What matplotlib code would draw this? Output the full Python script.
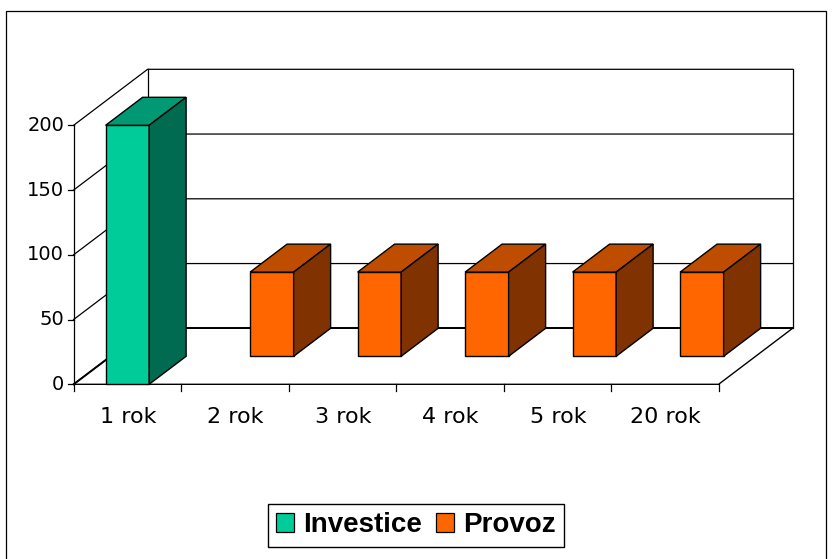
import matplotlib
matplotlib.use("Agg")
import matplotlib.pyplot as plt
from matplotlib.patches import Patch, Polygon, Rectangle

# data
kategorie = ["1 rok", "2 rok", "3 rok", "4 rok", "5 rok", "20 rok"]
investice = [200, 0, 0, 0, 0, 0]
provoz = [0, 65, 65, 65, 65, 65]
tiky = [0, 50, 100, 150, 200]

# geometry of the oblique projection (pixels)
x0, y0 = 73.6, 384.3
sirka_kat = 107.5
px_na_jednotku = 1.295
hloubka_x, hloubka_y = 74, 56
sirka_sloupce = 0.405

def proj(k, v, h=0.0):
    # k category position, v value, h depth 0 front .. 1 back
    return (x0 + k*sirka_kat + h*hloubka_x, y0 - v*px_na_jednotku - h*hloubka_y)

def kvadr(ax, k, v, h0, h1, barvy):
    # front, top and side face of one column
    l = k + 0.5 - sirka_sloupce/2
    r = k + 0.5 + sirka_sloupce/2
    predni = [proj(l, 0, h0), proj(r, 0, h0), proj(r, v, h0), proj(l, v, h0)]
    horni = [proj(l, v, h0), proj(r, v, h0), proj(r, v, h1), proj(l, v, h1)]
    bok = [proj(r, 0, h0), proj(r, 0, h1), proj(r, v, h1), proj(r, v, h0)]
    for body, c in zip((predni, horni, bok), barvy):
        ax.add_patch(Polygon(body, closed=True, fc=c, ec="black", lw=1.0, zorder=3))

fig = plt.figure(figsize=(8.33, 5.59), dpi=100)
ax = fig.add_axes([0, 0, 1, 1])
ax.set_xlim(0, 833)
ax.set_ylim(559, 0)
ax.axis("off")

# outer frame
ax.add_patch(Rectangle((6.5, 11), 819.5, 560, fc="white", ec="black", lw=0.9, zorder=0))

n = len(kategorie)
vmax = max(tiky)

# walls and gridlines
for t in tiky:
    ax.plot(*zip(proj(0, t, 0), proj(0, t, 1), proj(n, t, 1)), color="black", lw=0.9, zorder=1)
    ax.plot(*zip(proj(0, t, 0), (x0 - 6, proj(0, t, 0)[1])), color="black", lw=0.9, zorder=1)
    a = proj(0, t, 0)
    ax.text(a[0] - 9.5, a[1], str(t), ha="right", va="center", fontsize=14, color="black", family="DejaVu Sans")
ax.plot(*zip(proj(0, 0, 0), proj(0, vmax, 0)), color="black", lw=0.9, zorder=1)
ax.plot(*zip(proj(0, 0, 1), proj(0, vmax, 1)), color="black", lw=0.9, zorder=1)
ax.plot(*zip(proj(n, 0, 1), proj(n, vmax, 1)), color="black", lw=0.9, zorder=1)

# floor
ax.plot(*zip(proj(0, 0, 0), proj(n, 0, 0), proj(n, 0, 1)), color="black", lw=1.0, zorder=1)
ax.plot(*zip(proj(0, 0, 1), proj(n, 0, 1)), color="black", lw=1.4, zorder=1)
ax.plot(*zip(proj(0, 0, 0), proj(0, 0, 1)), color="black", lw=1.4, zorder=1)

# category ticks and labels
for i in range(n + 1):
    a = proj(i, 0, 0)
    ax.plot([a[0], a[0]], [a[1], a[1] + 7], color="black", lw=0.9, zorder=1)
for i, lab in enumerate(kategorie):
    a = proj(i + 0.5, 0, 0)
    ax.text(a[0] + 0.5, 417, lab, ha="center", va="center", fontsize=16, color="black", family="DejaVu Sans")

# columns, back series first
barvy_provoz = ("#FF6600", "#BF4D00", "#803300")
barvy_investice = ("#00CC99", "#009973", "#006B50")
for i, v in enumerate(provoz):
    if v > 0:
        kvadr(ax, i, v, 0.5, 1.0, barvy_provoz)
for i, v in enumerate(investice):
    if v > 0:
        kvadr(ax, i, v, 0.0, 0.5, barvy_investice)

# legend
ruce = [Patch(fc=barvy_investice[0], ec="black", lw=0.9), Patch(fc=barvy_provoz[0], ec="black", lw=0.9)]
leg = ax.legend(ruce, ["Investice", "Provoz"], ncol=2, loc="center",
                bbox_to_anchor=(416/833, 1 - 525.5/559), fancybox=False, framealpha=1,
                edgecolor="black", prop={"family": "Liberation Sans", "weight": "bold", "size": 20},
                handlelength=0.66, handleheight=0.66, handletextpad=0.32, columnspacing=0.5,
                borderpad=0.3, borderaxespad=0)
leg.get_frame().set_linewidth(1.0)

fig.savefig("out.png", dpi=100)
